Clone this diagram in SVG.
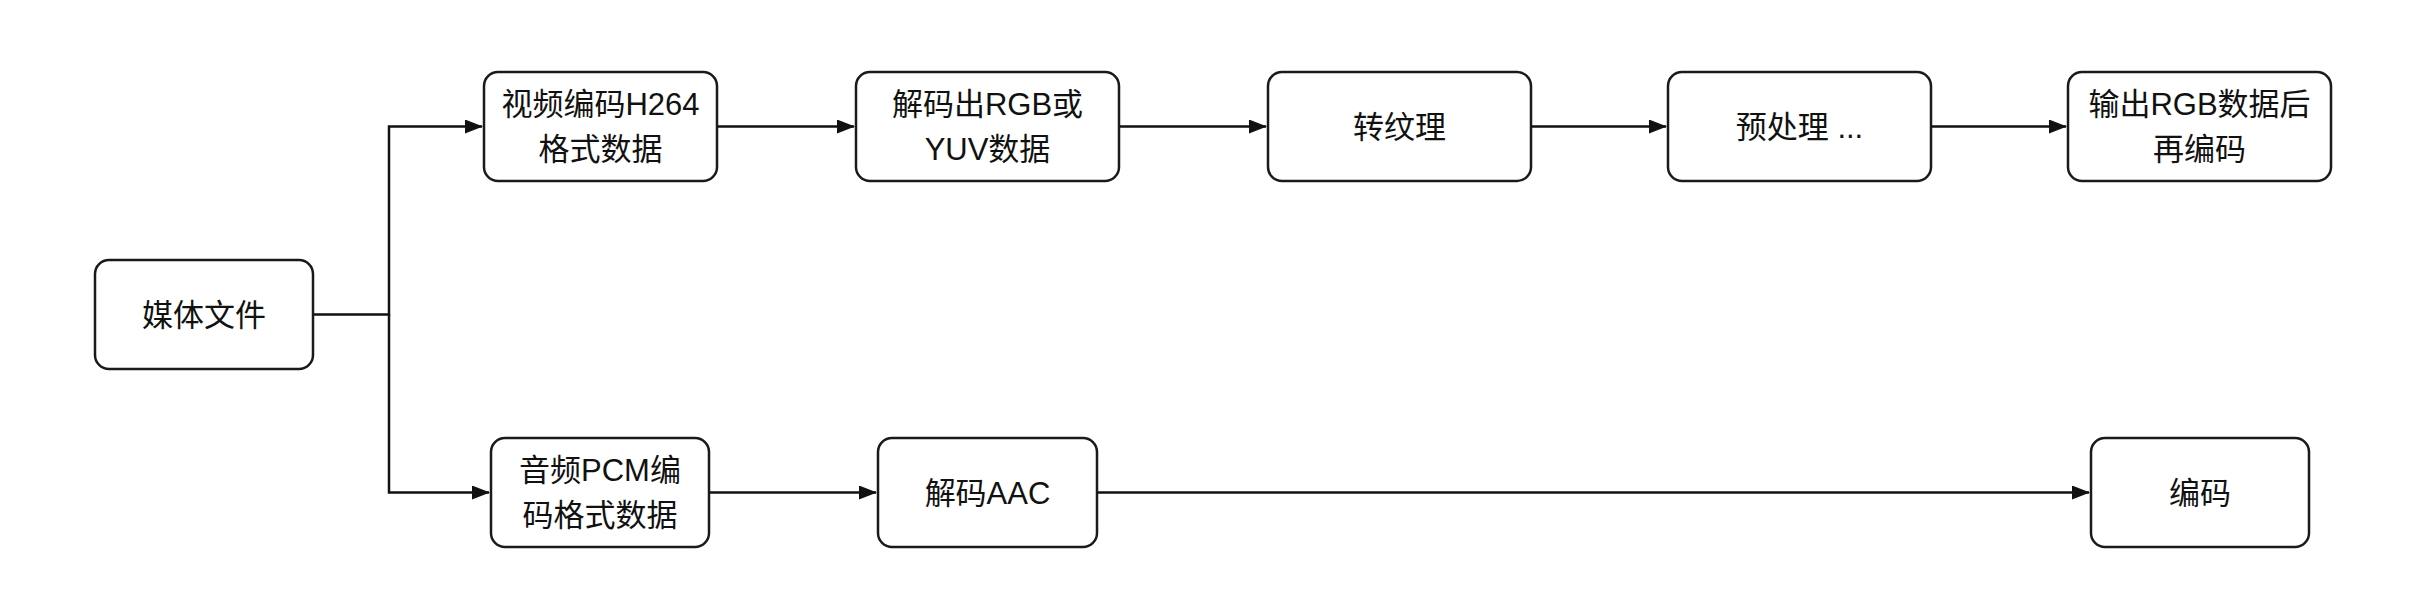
<svg xmlns="http://www.w3.org/2000/svg" width="2414" height="604" viewBox="0 0 2414 604">
<style>
.box{fill:#fff;stroke:#1a1a1a;stroke-width:2.5}
.lbl{font-family:"Liberation Sans","Noto Sans CJK SC",sans-serif;font-size:31px;fill:#111;text-anchor:middle}
.edge{fill:none;stroke:#111;stroke-width:2.5}
</style>
<defs>
<marker id="arr" markerWidth="18" markerHeight="14" refX="17" refY="7" orient="auto" markerUnits="userSpaceOnUse">
<path d="M0,0 L18,7 L0,14 Z" fill="#111"/>
</marker>
</defs>
<rect width="2414" height="604" fill="#fff"/>
<g id="connectors">
<path class="edge" d="M313,314.5 H389 V126.5 H482" marker-end="url(#arr)"/>
<path class="edge" d="M389,314.5 V492.5 H489" marker-end="url(#arr)"/>
<path class="edge" d="M717,126.5 H854" marker-end="url(#arr)"/>
<path class="edge" d="M1119,126.5 H1266" marker-end="url(#arr)"/>
<path class="edge" d="M1531,126.5 H1666" marker-end="url(#arr)"/>
<path class="edge" d="M1931,126.5 H2066" marker-end="url(#arr)"/>
<path class="edge" d="M709,492.5 H876" marker-end="url(#arr)"/>
<path class="edge" d="M1097,492.5 H2089" marker-end="url(#arr)"/>
</g>
<g id="n-media">
<rect class="box" x="95" y="260" width="218" height="109" rx="14"/>
<text class="lbl" x="204" y="326">媒体文件</text>
</g>
<g id="n-video">
<rect class="box" x="484" y="72" width="233" height="109" rx="14"/>
<text class="lbl" x="600.5" y="115">视频编码H264</text>
<text class="lbl" x="600.5" y="160">格式数据</text>
</g>
<g id="n-decode-rgb">
<rect class="box" x="856" y="72" width="263" height="109" rx="14"/>
<text class="lbl" x="987.5" y="115">解码出RGB或</text>
<text class="lbl" x="987.5" y="160">YUV数据</text>
</g>
<g id="n-texture">
<rect class="box" x="1268" y="72" width="263" height="109" rx="14"/>
<text class="lbl" x="1399.5" y="138">转纹理</text>
</g>
<g id="n-preprocess">
<rect class="box" x="1668" y="72" width="263" height="109" rx="14"/>
<text class="lbl" x="1799.5" y="138">预处理 ...</text>
</g>
<g id="n-output">
<rect class="box" x="2068" y="72" width="263" height="109" rx="14"/>
<text class="lbl" x="2199.5" y="115">输出RGB数据后</text>
<text class="lbl" x="2199.5" y="160">再编码</text>
</g>
<g id="n-audio">
<rect class="box" x="491" y="438" width="218" height="109" rx="14"/>
<text class="lbl" x="600" y="481">音频PCM编</text>
<text class="lbl" x="600" y="526">码格式数据</text>
</g>
<g id="n-decode-aac">
<rect class="box" x="878" y="438" width="219" height="109" rx="14"/>
<text class="lbl" x="987.5" y="504">解码AAC</text>
</g>
<g id="n-encode">
<rect class="box" x="2091" y="438" width="218" height="109" rx="14"/>
<text class="lbl" x="2200" y="504">编码</text>
</g>
</svg>
